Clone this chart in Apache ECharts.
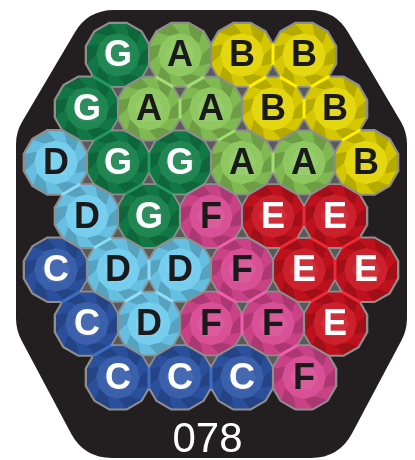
<!DOCTYPE html>
<html>
<head>
<meta charset="utf-8">
<script src="https://cdn.jsdelivr.net/npm/echarts@6/dist/echarts.min.js"></script>
<style>
  html, body { margin: 0; padding: 0; background: #fff; }
  #chart { width: 415px; height: 460px; }
</style>
</head>
<body>
<div id="chart"></div>
<script>
// puzzle rows, top to bottom (letter = group)
const rowLetters = ['GABB', 'GAABB', 'DGGAAB', 'DGFEE', 'CDDFEE', 'CDFFE', 'CCCF'];
// first cell of each row, in half-column steps
const rowOffset = [2, 1, 0, 1, 0, 1, 2];
const groupNames = ['A', 'B', 'C', 'D', 'E', 'F', 'G'];
const groupColors = ['#88c557', '#e2d400', '#2d55a6', '#6dcbee', '#c9131f', '#d6468f', '#127f48'];
const seamColors = ['#a6dc74', '#fff000', '#3f6cc4', '#8edcf6', '#ee2a36', '#f060aa', '#239a5c'];
const textColors = ['#1a1a1a', '#1a1a1a', '#ffffff', '#1a1a1a', '#ffffff', '#1a1a1a', '#ffffff'];
const puzzleLabel = '078';

const cells = [];
const cellMap = {};
rowLetters.forEach(function (row, r) {
  row.split('').forEach(function (ch, i) {
    const x = rowOffset[r] + 2 * i;
    const g = groupNames.indexOf(ch);
    cells.push([x, r, g]);
    cellMap[x + ',' + r] = g;
  });
});

function mix(hex, to, t) {
  const a = parseInt(hex.slice(1), 16), b = parseInt(to.slice(1), 16);
  const ch = function (s) {
    const ca = (a >> s) & 255, cb = (b >> s) & 255;
    return Math.round(ca + (cb - ca) * t);
  };
  return 'rgb(' + ch(16) + ',' + ch(8) + ',' + ch(0) + ')';
}

function ring(cx, cy, r, n, rot) {
  const pts = [];
  for (let k = 0; k < n; k++) {
    const a = rot + k * 2 * Math.PI / n;
    pts.push([cx + r * Math.cos(a), cy + r * Math.sin(a)]);
  }
  return pts;
}

const ROT = Math.PI / 12;

function renderOutline(params, api) {
  const c = api.coord([api.value(0), api.value(1)]);
  const step = api.size([1, 0])[0];
  const R = step / Math.cos(Math.PI / 12);
  return {
    type: 'polygon',
    shape: { points: ring(c[0], c[1], R + 2.4, 12, ROT) },
    style: { fill: '#8e8e8e' }
  };
}

function renderGem(params, api) {
  const g = api.value(2);
  const c = api.coord([api.value(0), api.value(1)]);
  const step = api.size([1, 0])[0];
  const R = step / Math.cos(Math.PI / 12);
  const base = groupColors[g];
  const outer = ring(c[0], c[1], R, 12, ROT);
  const inner = ring(c[0], c[1], R * 0.68, 12, ROT + Math.PI / 12);
  const children = [{
    type: 'polygon', shape: { points: outer }, style: { fill: mix(base, '#000000', 0.14) }
  }];
  for (let k = 0; k < 12; k++) {
    const pts = [outer[k], outer[(k + 1) % 12], inner[(k + 1) % 12], inner[k]];
    const shade = k % 2 === 0 ? mix(base, '#000000', 0.06) : mix(base, '#000000', 0.2);
    children.push({ type: 'polygon', shape: { points: pts }, style: { fill: shade } });
  }
  children.push({
    type: 'polygon', shape: { points: inner }, style: { fill: mix(base, '#ffffff', 0.06) }
  });
  children.push({
    type: 'polygon', shape: { points: ring(c[0], c[1], R * 0.45, 6, 0) },
    style: { fill: mix(base, '#ffffff', 0.12) }
  });
  children.push({
    type: 'text',
    style: {
      text: groupNames[g], x: c[0], y: c[1] + 1.5,
      fill: textColors[g], fontSize: 36, fontWeight: 'bold',
      fontFamily: 'Liberation Sans, Arial, sans-serif',
      align: 'center', verticalAlign: 'middle'
    }
  });
  return { type: 'group', children: children };
}

function renderSeams(params, api) {
  const x = api.value(0), y = api.value(1), g = api.value(2);
  const c = api.coord([x, y]);
  const children = [];
  [[2, 0], [1, 1], [-1, 1]].forEach(function (d) {
    const ng = cellMap[(x + d[0]) + ',' + (y + d[1])];
    if (ng === undefined) return;
    const n = api.coord([x + d[0], y + d[1]]);
    const vx = n[0] - c[0], vy = n[1] - c[1];
    const L = Math.sqrt(vx * vx + vy * vy);
    const px = -vy / L, py = vx / L, h = 11.5;
    const mx = (c[0] + n[0]) / 2, my = (c[1] + n[1]) / 2;
    const same = ng === g;
    children.push({
      type: 'line',
      shape: { x1: mx - px * h, y1: my - py * h, x2: mx + px * h, y2: my + py * h },
      style: { stroke: same ? seamColors[g] : '#8e8e8e', lineWidth: same ? 3 : 2.2 }
    });
  });
  return { type: 'group', children: children };
}

function renderGaps(params, api) {
  const x = api.value(0), y = api.value(1);
  const children = [];
  // triangle below a pair in the row, and triangle below a cell
  const triples = [[[2, 0], [1, 1], -Math.PI / 2], [[-1, 1], [1, 1], Math.PI / 2]];
  triples.forEach(function (t) {
    const a = t[0], b = t[1];
    if (cellMap[(x + a[0]) + ',' + (y + a[1])] === undefined) return;
    if (cellMap[(x + b[0]) + ',' + (y + b[1])] === undefined) return;
    const p0 = api.coord([x, y]);
    const p1 = api.coord([x + a[0], y + a[1]]);
    const p2 = api.coord([x + b[0], y + b[1]]);
    const cx = (p0[0] + p1[0] + p2[0]) / 3, cy = (p0[1] + p1[1] + p2[1]) / 3;
    children.push({
      type: 'polygon',
      shape: { points: ring(cx, cy, 7.5, 3, t[2]) },
      style: { fill: '#5a5a5a', stroke: '#8e8e8e', lineWidth: 1.6, lineJoin: 'round' }
    });
  });
  return { type: 'group', children: children };
}

// rounded black frame
function framePath(pts, radii) {
  let d = '';
  const n = pts.length;
  for (let i = 0; i < n; i++) {
    const p = pts[i], a = pts[(i + n - 1) % n], b = pts[(i + 1) % n];
    const r = radii[i];
    const la = Math.hypot(a[0] - p[0], a[1] - p[1]), lb = Math.hypot(b[0] - p[0], b[1] - p[1]);
    const s = [p[0] + (a[0] - p[0]) * r / la, p[1] + (a[1] - p[1]) * r / la];
    const e = [p[0] + (b[0] - p[0]) * r / lb, p[1] + (b[1] - p[1]) * r / lb];
    d += (i === 0 ? 'M' : 'L') + s[0].toFixed(1) + ' ' + s[1].toFixed(1);
    d += ' Q' + p[0] + ' ' + p[1] + ' ' + e[0].toFixed(1) + ' ' + e[1].toFixed(1) + ' ';
  }
  return d + 'Z';
}

const frame = framePath(
  [[88, 10], [335, 10], [407, 132], [407, 330], [339, 458], [84, 458], [16, 330], [16, 132]],
  [26, 26, 12, 12, 28, 28, 12, 12]
);

function renderFrame() {
  return { type: 'path', shape: { pathData: frame }, style: { fill: '#231f20' } };
}

const chart = echarts.init(document.getElementById('chart'));
const seriesBase = { type: 'custom', data: cells, silent: true, animation: false, clip: false };

chart.setOption({
  animation: false,
  title: {
    text: puzzleLabel,
    left: 'center',
    top: 414,
    textStyle: { color: '#ffffff', fontSize: 42, fontWeight: 'normal', fontFamily: 'Liberation Sans, Arial, sans-serif' }
  },
  grid: { left: 0, right: 0, top: 0, bottom: 0 },
  xAxis: { type: 'value', min: -56 / 31, max: 359 / 31, show: false },
  yAxis: { type: 'value', min: -55 / 53.7, max: 405 / 53.7, inverse: true, show: false },
  series: [
    { type: 'custom', z: 0, data: [[0, 0]], silent: true, animation: false, clip: false, renderItem: renderFrame },
    Object.assign({ z: 1, renderItem: renderOutline }, seriesBase),
    Object.assign({ z: 2, renderItem: renderGem }, seriesBase),
    Object.assign({ z: 3, renderItem: renderSeams }, seriesBase),
    Object.assign({ z: 4, renderItem: renderGaps }, seriesBase)
  ]
});
</script>
</body>
</html>
